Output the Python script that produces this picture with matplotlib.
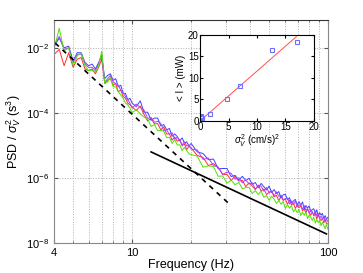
import numpy as np
import matplotlib
matplotlib.use("Agg")
import matplotlib.pyplot as plt

plt.rcParams['font.family'] = ['Liberation Sans', 'DejaVu Sans']
plt.rcParams['mathtext.fontset'] = 'custom'
plt.rcParams['mathtext.rm'] = 'Liberation Sans'
plt.rcParams['mathtext.it'] = 'Liberation Sans:italic'

# frequency grid (Hz)
freq = [4.0, 4.25, 4.5, 4.75, 5.0, 5.25, 5.5, 5.75, 6.0, 6.25, 6.5, 6.75, 7.0, 7.25,
        7.5, 7.75, 8.0, 8.25, 8.5, 8.75, 9.0, 9.25, 9.5, 9.75,
        10, 10.5, 11, 11.5, 12, 12.5, 13, 13.5, 14, 14.5, 15, 15.5, 16, 16.5, 17, 17.5,
        18, 18.5, 19, 19.5,
        20, 21.5, 23, 24.5, 26, 27.5, 29, 30.5, 32, 33.5, 35, 36.5, 38, 39.5, 41, 42.5,
        44, 45.5, 47, 48.5, 50, 51.5, 53, 54.5, 56, 57.5, 59, 60.5, 62, 63.5, 65, 66.5,
        68, 69.5, 71, 72.5, 74, 75.5, 77, 78.5, 80, 81.5, 83, 84.5, 86, 87.5, 89, 90.5,
        92, 93.5, 95, 96.5, 98, 100]

# log10 of PSD / sigma_V^2 for the four runs
psd_blue = [-1.95, -1.7, -2.0, -1.95, -2.4, -2.15, -2.15, -2.45, -2.55, -2.5, -2.65, -2.45,
            -2.25, -2.95, -2.85, -2.8, -3.0, -2.95, -3.2, -3.15, -3.4, -3.4, -3.6, -3.55,
            -3.70, -3.81, -3.63, -3.98, -3.98, -4.23, -4.16, -4.16, -4.40, -4.36, -4.52,
            -4.48, -4.72, -4.65, -4.73, -4.86, -4.77, -4.93, -4.89, -5.02,
            -4.94, -5.20, -5.25, -5.44, -5.42, -5.72, -5.71, -5.71, -5.96, -5.92, -6.07,
            -5.95, -6.08, -6.01, -6.20, -6.14, -6.30, -6.17, -6.27, -6.37, -6.25, -6.45,
            -6.36, -6.48, -6.42, -6.62, -6.52, -6.50, -6.67, -6.61, -6.77, -6.71, -6.66,
            -6.83, -6.73, -6.84, -6.74, -6.96, -6.85, -6.93, -6.86, -7.04, -6.97, -6.95,
            -7.09, -6.98, -7.17, -7.07, -7.14, -7.09, -7.25, -7.16, -7.27, -7.20]
psd_purple = [-1.9, -1.65, -2.05, -2.0, -2.45, -2.2, -2.2, -2.5, -2.6, -2.6, -2.7, -2.5,
              -2.2, -3.05, -2.95, -2.85, -3.05, -3.1, -3.15, -3.3, -3.4, -3.5, -3.6, -3.7,
              -3.85, -3.73, -3.83, -3.91, -4.17, -4.14, -4.29, -4.26, -4.32, -4.55, -4.52,
              -4.66, -4.61, -4.81, -4.75, -4.84, -4.99, -4.89, -5.02, -4.99,
              -5.11, -5.14, -5.43, -5.39, -5.62, -5.67, -5.89, -5.82, -5.86, -6.04, -5.99,
              -6.15, -6.06, -6.19, -6.15, -6.34, -6.25, -6.25, -6.41, -6.29, -6.46, -6.40,
              -6.56, -6.43, -6.57, -6.53, -6.68, -6.63, -6.62, -6.80, -6.71, -6.82, -6.71,
              -6.89, -6.84, -6.82, -6.97, -6.85, -7.00, -6.94, -7.09, -6.98, -7.05, -7.14,
              -7.02, -7.17, -7.09, -7.25, -7.17, -7.26, -7.18, -7.36, -7.26, -7.36]
psd_red = [-2.2, -2.05, -2.55, -2.15, -2.6, -2.35, -2.3, -2.65, -2.7, -2.65, -2.8, -2.6,
           -2.35, -3.1, -3.0, -2.95, -3.15, -3.1, -3.35, -3.3, -3.5, -3.55, -3.7, -3.75,
           -3.82, -3.93, -3.79, -4.05, -4.25, -4.17, -4.34, -4.33, -4.52, -4.43, -4.65,
           -4.65, -4.84, -4.74, -4.87, -4.83, -5.01, -4.96, -5.13, -5.03,
           -5.08, -5.31, -5.37, -5.62, -5.56, -5.68, -5.90, -5.89, -6.08, -5.95, -6.10,
           -6.07, -6.27, -6.15, -6.25, -6.36, -6.22, -6.40, -6.34, -6.51, -6.44, -6.41,
           -6.58, -6.54, -6.70, -6.56, -6.69, -6.65, -6.81, -6.68, -6.84, -6.77, -6.94,
           -6.84, -6.92, -6.85, -7.01, -6.95, -7.08, -6.96, -7.06, -7.15, -7.04, -7.17,
           -7.10, -7.27, -7.12, -7.25, -7.31, -7.24, -7.38, -7.27, -7.40, -7.42]
psd_green = [-2.05, -1.4, -2.1, -2.0, -2.55, -2.25, -2.15, -2.55, -2.7, -2.7, -2.75, -2.55,
             -2.1, -3.1, -3.05, -2.9, -3.2, -3.2, -3.35, -3.45, -3.55, -3.7, -3.75, -3.85,
             -4.00, -3.90, -4.03, -4.13, -4.18, -4.42, -4.36, -4.55, -4.54, -4.56, -4.76,
             -4.75, -4.94, -4.82, -4.99, -4.98, -5.16, -5.06, -5.16, -5.26,
             -5.28, -5.33, -5.67, -5.63, -5.65, -5.95, -5.94, -6.16, -6.07, -6.21, -6.14,
             -6.33, -6.30, -6.29, -6.48, -6.39, -6.51, -6.40, -6.60, -6.54, -6.69, -6.56,
             -6.65, -6.79, -6.69, -6.81, -6.72, -6.94, -6.82, -6.93, -6.85, -7.04, -6.96,
             -7.07, -6.96, -7.16, -7.05, -7.15, -7.04, -7.25, -7.14, -7.20, -7.31, -7.21,
             -7.39, -7.28, -7.37, -7.30, -7.47, -7.37, -7.46, -7.56, -7.43, -7.59]

# reference power laws (end points)
dash_f = [4.05, 30.9]
dash_psd = [1.4e-2, 1.7e-7]
solid_f = [12.5, 98]
solid_psd = [6.3e-6, 1.9e-8]

# inset: <I> vs sigma_V^2
sig2 = [0.1, 0.3, 0.2, 1.8, 4.7, 7.1, 12.6, 17.1]
power = [0.9, 0.6, 1.1, 1.5, 5.2, 8.1, 16.5, 18.3]
fit_x = [0, 16.9]
fit_y = [0, 19.6]

fig = plt.figure(figsize=(3.63, 2.73), dpi=100)
ax = fig.add_axes([0.149, 0.110, 0.755, 0.817])

for vals, col in [(psd_red, '#ff3030'), (psd_blue, '#4040ff'),
                  (psd_purple, '#b040ff'), (psd_green, '#50e000')]:
    ax.plot(freq, 10 ** np.array(vals), color=col, lw=0.7)

ax.plot(dash_f, dash_psd, color='k', ls=(0, (3, 3)), lw=1.2)
ax.plot(solid_f, solid_psd, color='k', lw=1.2)

ax.set_xscale('log')
ax.set_yscale('log')
ax.set_xlim(4, 100)
ax.set_ylim(1e-8, 7.2e-2)
ax.set_xticks([4, 10, 100])
ax.set_xticklabels(['4', '10', '100'])
ax.set_xticks([5, 6, 7, 8, 9, 20, 30, 40, 50, 60, 70, 80, 90], minor=True)
ax.xaxis.set_minor_formatter(matplotlib.ticker.NullFormatter())
ax.set_yticks([1e-8, 1e-6, 1e-4, 1e-2])
ax.yaxis.set_minor_locator(matplotlib.ticker.NullLocator())
ax.grid(True, which='both', axis='x', ls=':', color='#b0b0b0', lw=0.7)
ax.grid(True, which='major', axis='y', ls=':', color='#b0b0b0', lw=0.7)
ax.tick_params(which='both', direction='in', labelsize=8, top=True, right=True,
               length=3, color='#555555')
ax.tick_params(which='minor', length=1.5)
for s in ['left', 'bottom', 'right']:
    ax.spines[s].set_color('#888888')
ax.spines['top'].set_color('#333333')
ax.set_xlabel('Frequency (Hz)', fontsize=9, labelpad=1)
ax.set_ylabel(r'PSD / $\sigma_V^2$ (s$^3$)', fontsize=9, labelpad=2)

ins = fig.add_axes([0.551, 0.557, 0.314, 0.315])
ins.plot(fit_x, fit_y, color='#ff5050', lw=0.7)
ins.plot(sig2, power, ls='none', marker='s', ms=3.5, mfc='none', mec='#6f6fff', mew=0.8)
ins.set_xlim(0, 20)
ins.set_ylim(0, 20)
ins.set_xticks([0, 5, 10, 15, 20])
ins.set_yticks([0, 5, 10, 15, 20])
ins.tick_params(direction='in', labelsize=7, length=2, pad=1, top=True, right=True)
ins.set_xlabel(r'$\sigma_V^2$ (cm/s)$^2$', fontsize=7, labelpad=0)
ins.set_ylabel('< I > (mW)', fontsize=7, labelpad=1)

fig.savefig('out.png', dpi=100)
